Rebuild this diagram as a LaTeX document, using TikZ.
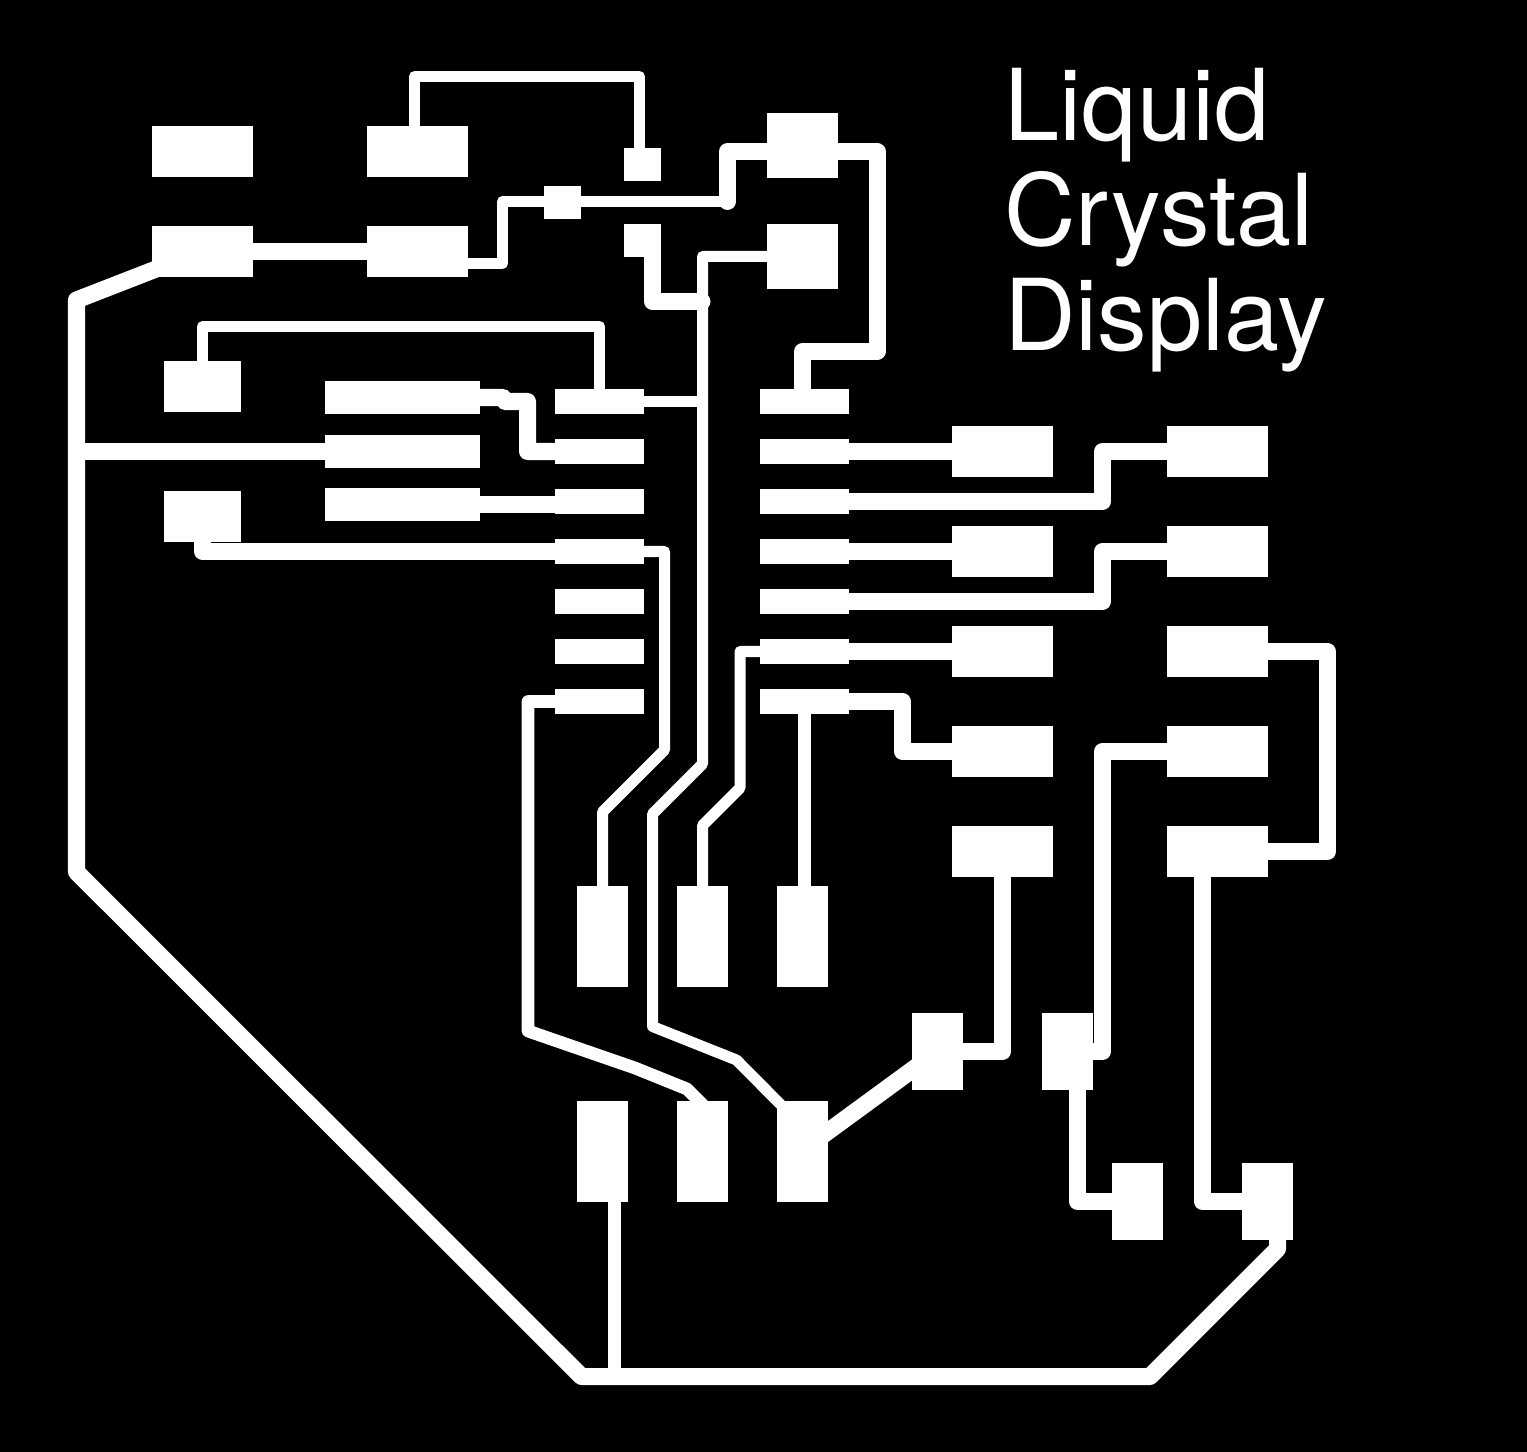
\documentclass[tikz,border=0pt]{standalone}
\usepackage{fontspec}
\setmainfont{TeX Gyre Heros}
\tikzset{
  pad/.style={fill=white},
  trace/.style={draw=white,line join=round,line cap=round},
  thintrace/.style={trace,line width=0.11cm},
  midtrace/.style={trace,line width=0.127cm},
  widetrace/.style={trace,line width=0.17cm},
  legend/.style={white,anchor=base west,inner sep=0pt,font=\fontsize{28.2}{34}\selectfont}
}
\begin{document}
\begin{tikzpicture}[x=0.01cm,y=-0.01cm]
      \fill[black] (0,0) rectangle (1527,1452);
      % pads
      \foreach \X in {152,367} {%
        \fill[pad] (\X,126) rectangle ++(101,51);
        \fill[pad] (\X,226) rectangle ++(101,51);
      }
      \fill[pad] (624,148) rectangle ++(37,33);
      \fill[pad] (624,224) rectangle ++(37,33);
      \fill[pad] (544,186) rectangle ++(37,33);
      \fill[pad] (767,113) rectangle ++(71,65);
      \fill[pad] (767,224) rectangle ++(71,65);
      \fill[pad] (164,361) rectangle ++(77,51);
      \fill[pad] (164,491) rectangle ++(77,51);
      \foreach \Y in {381,435,488} {%
        \fill[pad] (325,\Y) rectangle ++(155,33);
      }
      % chip legs
      \foreach \Y in {389,439,489,539,589,639,689} {%
        \fill[pad] (555,\Y) rectangle ++(89,25);
        \fill[pad] (760,\Y) rectangle ++(89,25);
      }
      \foreach \Y in {426,526,626,726,826} {%
        \fill[pad] (952,\Y) rectangle ++(101,51);
        \fill[pad] (1167,\Y) rectangle ++(101,51);
      }
      \foreach \X in {577,677,777} {%
        \fill[pad] (\X,886) rectangle ++(51,101);
        \fill[pad] (\X,1101) rectangle ++(51,101);
      }
      \fill[pad] (912,1013) rectangle ++(51,77);
      \fill[pad] (1042,1013) rectangle ++(51,77);
      \fill[pad] (1112,1163) rectangle ++(51,77);
      \fill[pad] (1242,1163) rectangle ++(51,77);
      % thin traces
      \draw[thintrace] (414.5,140) -- (414.5,76.5) -- (639.5,76.5) -- (639.5,160);
      \draw[thintrace] (460,263.5) -- (502.5,263.5) -- (502.5,201.5) -- (727.5,201.5);
      \draw[thintrace] (800,256.5) -- (702.5,256.5) -- (702.5,764) -- (652.5,814) -- (652.5,1026.5) -- (736.5,1060) -- (790,1114);
      \draw[thintrace] (630,401.5) -- (702.5,401.5);
      \draw[thintrace] (599.5,400) -- (599.5,326.5) -- (202.5,326.5) -- (202.5,375);
      \draw[thintrace] (630,551.5) -- (664.5,551.5) -- (664.5,750) -- (602.5,812) -- (602.5,900);
      \draw[thintrace] (780,651.5) -- (740,651.5) -- (740,788) -- (702.5,825.5) -- (702.5,900);
      % middle traces
      \draw[midtrace] (570,701.5) -- (528,701.5) -- (528,1031) -- (635,1068) -- (687,1089) -- (705,1107);
      \draw[midtrace] (804.5,700) -- (804.5,900);
      \draw[midtrace] (614.5,1190) -- (614.5,1376.5);
      % wide traces
      \draw[widetrace] (727.5,201.5) -- (727.5,151.5) -- (877,151.5) -- (877,351.5) -- (802.5,351.5) -- (802.5,400);
      \draw[widetrace] (652.5,240) -- (652.5,301.5) -- (702,301.5);
      \draw[widetrace] (470,397.5) -- (503,397.5) -- (505,401.5) -- (527.5,401.5) -- (527.5,451.5) -- (570,451.5);
      \draw[widetrace] (240,251.5) -- (380,251.5);
      \draw[widetrace] (76.5,451.5) -- (340,451.5);
      \draw[widetrace] (470,504.5) -- (570,504.5);
      \draw[widetrace] (202.5,530) -- (202.5,551.5) -- (570,551.5);
      \draw[widetrace] (160,267.5) -- (76.5,300) -- (76.5,872) -- (581.5,1376.5) -- (1150,1376.5) -- (1277.5,1249) -- (1277.5,1225);
      \draw[widetrace] (830,451.5) -- (970,451.5);
      \draw[widetrace] (830,501.5) -- (1102.5,501.5) -- (1102.5,451.5) -- (1180,451.5);
      \draw[widetrace] (830,551.5) -- (970,551.5);
      \draw[widetrace] (830,601.5) -- (1102.5,601.5) -- (1102.5,551.5) -- (1180,551.5);
      \draw[widetrace] (830,651.5) -- (970,651.5);
      \draw[widetrace] (830,701.5) -- (902.5,701.5) -- (902.5,751.5) -- (970,751.5);
      \draw[widetrace] (1250,651.5) -- (1327.5,651.5) -- (1327.5,851.5) -- (1250,851.5);
      \draw[widetrace] (1180,751.5) -- (1102.5,751.5) -- (1102.5,1051.5) -- (1080,1051.5);
      \draw[widetrace] (1002.5,865) -- (1002.5,1051.5) -- (950,1051.5);
      \draw[widetrace] (1202.5,865) -- (1202.5,1201.5) -- (1260,1201.5);
      \draw[widetrace] (1077.5,1080) -- (1077.5,1201.5) -- (1130,1201.5);
      \draw[widetrace] (815,1141) -- (925,1060.5);
      % legend
      \node[legend] (liquid) at (1003.5,141) {Liquid};
      \node[legend] (crystal) at (1003.5,246) {Crystal};
      \node[legend] (display) at (1003.5,351) {Display};
    \end{tikzpicture}
\end{document}
